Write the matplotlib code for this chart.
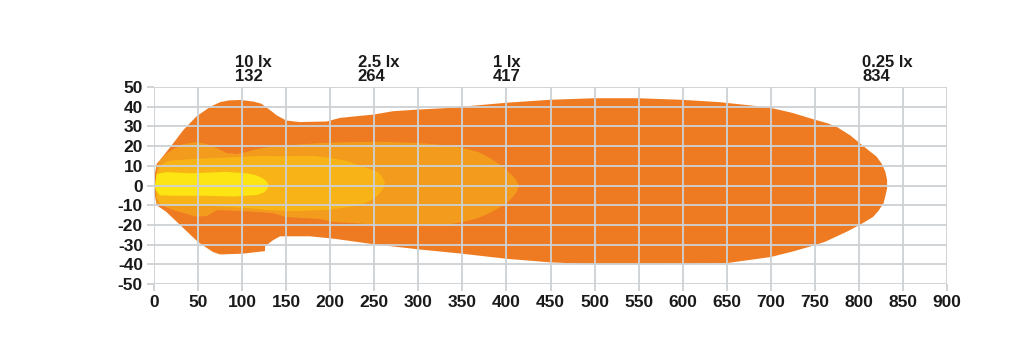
import matplotlib
matplotlib.use("Agg")
import matplotlib.pyplot as plt

plt.rcParams['font.family'] = ['Liberation Sans', 'DejaVu Sans']
plt.rcParams['axes.unicode_minus'] = False

# Isolux outlines (x in m, y in m)
lx025_x = [1, 1, 3, 7, 14, 22, 33, 48, 64, 75, 85, 98, 113, 122, 128, 134, 139, 150, 165, 196, 211, 226, 249, 271, 298, 336, 349, 400, 449, 500, 549, 599, 642, 680, 700, 725, 750, 765, 775, 790, 801, 812, 820, 826, 830, 832, 832, 830, 828, 822, 816, 801, 786, 762, 750, 725, 700, 650, 600, 549, 500, 449, 400, 349, 302, 249, 204, 177, 143, 135, 126, 126, 101, 75, 67, 50, 30, 14, 3, 1]
lx025_y = [0, 6, 11, 13, 17, 21.5, 28, 35, 40, 42.3, 43.2, 43.4, 42.6, 41.5, 39.5, 37.5, 35.7, 33, 32.2, 32.5, 34.3, 35, 36, 37.7, 38.5, 39.4, 40, 42, 43.5, 44.3, 44.3, 43.5, 42.3, 40.5, 39.4, 36.8, 33.4, 31.5, 29.7, 25.5, 21.5, 17.5, 14.7, 11, 7, 2.8, -1.5, -5.5, -9, -13, -16, -20, -23.5, -28.5, -30.3, -33.5, -36.3, -39.4, -39.8, -40, -40, -39, -37.2, -34.6, -32.5, -29.8, -27, -25.8, -25.8, -27.8, -30.9, -33.3, -34.6, -35, -33.8, -28.7, -20.2, -13.4, -10, -5]

lx1_x = [2, 3, 7, 14, 22, 33, 48, 60, 71, 82, 94, 105, 117, 135, 150, 188, 220, 260, 302, 330, 351, 368, 381, 393, 404, 410, 414, 412, 407, 400, 391, 381, 368, 351, 330, 302, 257, 204, 188, 150, 135, 101, 71, 60, 48, 22, 3, 2]
lx1_y = [0, 9, 13, 16, 18.5, 21, 22, 21, 19, 16.5, 16, 17, 18.5, 19.8, 20.4, 21.5, 22, 22.2, 21.5, 20.5, 19, 17, 14, 10.5, 6.2, 3.5, 0, -3, -6, -9, -11.5, -14, -16.5, -18.5, -20, -20.5, -20, -18.5, -17, -16, -14, -13, -12.5, -15.5, -15.8, -12.5, -9, -5]

lx25_x = [2, 3, 7, 14, 22, 48, 98, 120, 143, 181, 200, 219, 241, 252, 257, 260, 262, 261, 258, 254, 248, 238, 226, 200, 162, 130, 109, 71, 41, 22, 7, 3]
lx25_y = [0, 6, 10, 12, 12.8, 13.5, 14.5, 15, 14.8, 15, 14, 12.4, 9, 7.3, 5.6, 3.5, 1.3, -1, -2.9, -5, -7.1, -9.2, -10.6, -12.2, -13.1, -12.5, -11.6, -10.5, -10.5, -10.5, -9.5, -6]

lx10_x = [1, 2, 3, 14, 41, 60, 82, 105, 115, 122, 127, 130, 129, 125, 117, 90, 60, 41, 22, 7, 2]
lx10_y = [0, 3, 5.8, 6.8, 6.2, 6.5, 6.9, 6.2, 5.3, 4, 2.5, 0.5, -1.5, -3.5, -4.8, -5.6, -5.2, -5.2, -5.2, -5, -2.5]

iso_labels = ["0.25 lx\n834", "1 lx\n417", "2.5 lx\n264", "10 lx\n132"]
iso_label_x = [804, 385, 231, 92]

x_ticks = list(range(0, 901, 50))
y_ticks = list(range(-50, 51, 10))

colors = ['#EE7B22', '#F39B1C', '#F8B416', '#FCE512']
grid_c = '#CDD1D4'

fig = plt.figure(figsize=(10.24, 3.55), dpi=100)
ax = fig.add_axes([154/1024, 1-284/355, 793/1024, 197/355])

for (xs, ys), c in zip([(lx025_x, lx025_y), (lx1_x, lx1_y), (lx25_x, lx25_y), (lx10_x, lx10_y)], colors):
    ax.fill(xs, ys, color=c, lw=0, zorder=1)

ax.set_xlim(0, 900)
ax.set_ylim(-50, 50)
ax.set_xticks(x_ticks)
ax.set_xticklabels([str(v) for v in x_ticks])
ax.set_yticks(y_ticks)
ax.set_yticklabels([str(v) for v in y_ticks])
ax.grid(True, color=grid_c, lw=1.3, zorder=2)
ax.set_axisbelow(False)
for s in ax.spines.values():
    s.set_visible(False)
ax.tick_params(axis='both', length=5, width=1.3, color=grid_c, labelsize=12.5, pad=3)
for lab in ax.get_xticklabels() + ax.get_yticklabels():
    lab.set_fontweight('bold')
    lab.set_color('#1a1a1a')

for t, xv in zip(iso_labels, iso_label_x):
    ax.text(xv, 51.5, t, ha='left', va='bottom', fontsize=12, fontweight='bold',
            color='#1a1a1a', linespacing=0.95, clip_on=False)

fig.savefig('out.png', dpi=100, facecolor='white')
